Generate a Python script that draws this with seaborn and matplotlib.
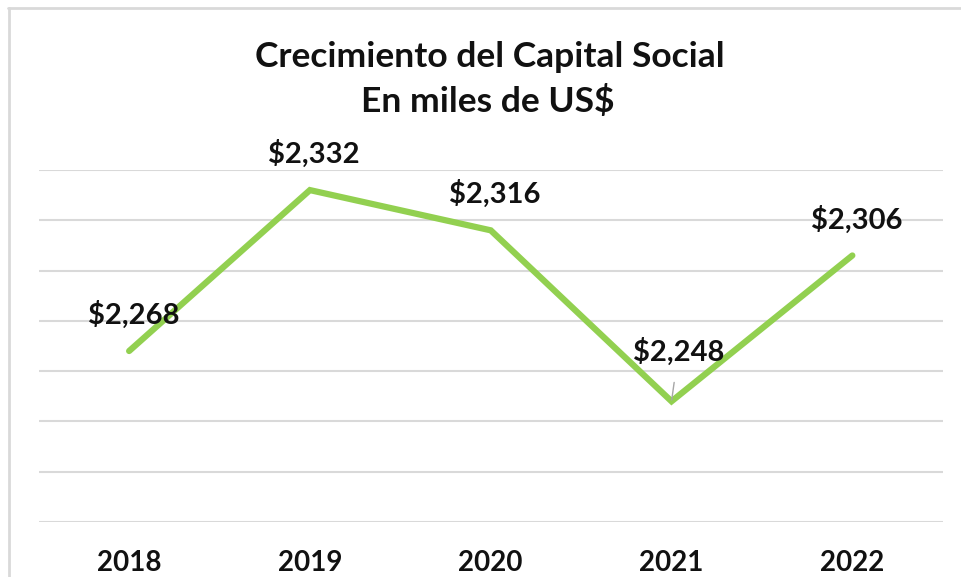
import matplotlib
matplotlib.use('Agg')
import matplotlib.pyplot as plt
from matplotlib.lines import Line2D
import seaborn as sns
import pandas as pd

years = ['2018', '2019', '2020', '2021', '2022']
capital = [2268, 2332, 2316, 2248, 2306]
title_lines = ['Crecimiento del Capital Social', 'En miles de US$']

sns.set_theme(style='whitegrid')
plt.rcParams['font.family'] = ['Lato', 'DejaVu Sans']

frame = pd.DataFrame({'year': years, 'capital': capital})

fig = plt.figure(figsize=(9.61, 5.77), dpi=100)
ax = fig.add_axes([0.0403, 0.0953, 0.9407, 0.6101])

sns.lineplot(data=frame, x='year', y='capital', ax=ax, color='#92D050', linewidth=4.5,
             sort=False, solid_joinstyle='miter')

ax.set_xlim(-0.5, len(years) - 0.5)
ax.set_ylim(2200, 2340)
ax.set_yticks(range(2200, 2341, 20))
ax.set_yticklabels([])
ax.set_xlabel('')
ax.set_ylabel('')
ax.grid(axis='x', visible=False)
ax.grid(axis='y', color='#d9d9d9', linewidth=1.5)
for side in ['top', 'right', 'left', 'bottom']:
    ax.spines[side].set_visible(False)
ax.tick_params(axis='y', length=0)
ax.tick_params(axis='x', length=0, pad=20, labelsize=20)
for lbl in ax.get_xticklabels():
    lbl.set_fontweight('bold')
    lbl.set_color('#111111')

# value labels above each point
for i, (yr, val) in enumerate(zip(years, capital)):
    txt = '${:,}'.format(val)
    if i == 3:
        ax.annotate(txt, (i, val), xytext=(5, 36), textcoords='offset points',
                    ha='center', va='center', fontsize=21, fontweight='bold', color='#111111',
                    arrowprops=dict(arrowstyle='-', color='#a6a6a6', lw=1, shrinkA=10, shrinkB=1))
    else:
        ax.annotate(txt, (i, val), xytext=(3, 26), textcoords='offset points',
                    ha='center', va='center', fontsize=21, fontweight='bold', color='#111111')

fig.text(0.51, 0.884, title_lines[0], ha='center', va='baseline', fontsize=25.5,
         fontweight='bold', color='#111111')
fig.text(0.508, 0.806, title_lines[1], ha='center', va='baseline', fontsize=25.5,
         fontweight='bold', color='#111111')

# chart border (top and left visible)
fig.add_artist(Line2D([8 / 961, 1.0], [1 - 8 / 577, 1 - 8 / 577], transform=fig.transFigure,
                      color='#d9d9d9', linewidth=2))
fig.add_artist(Line2D([9 / 961, 9 / 961], [0.0, 1 - 8 / 577], transform=fig.transFigure,
                      color='#d9d9d9', linewidth=2))

fig.savefig('out.png', dpi=100)
